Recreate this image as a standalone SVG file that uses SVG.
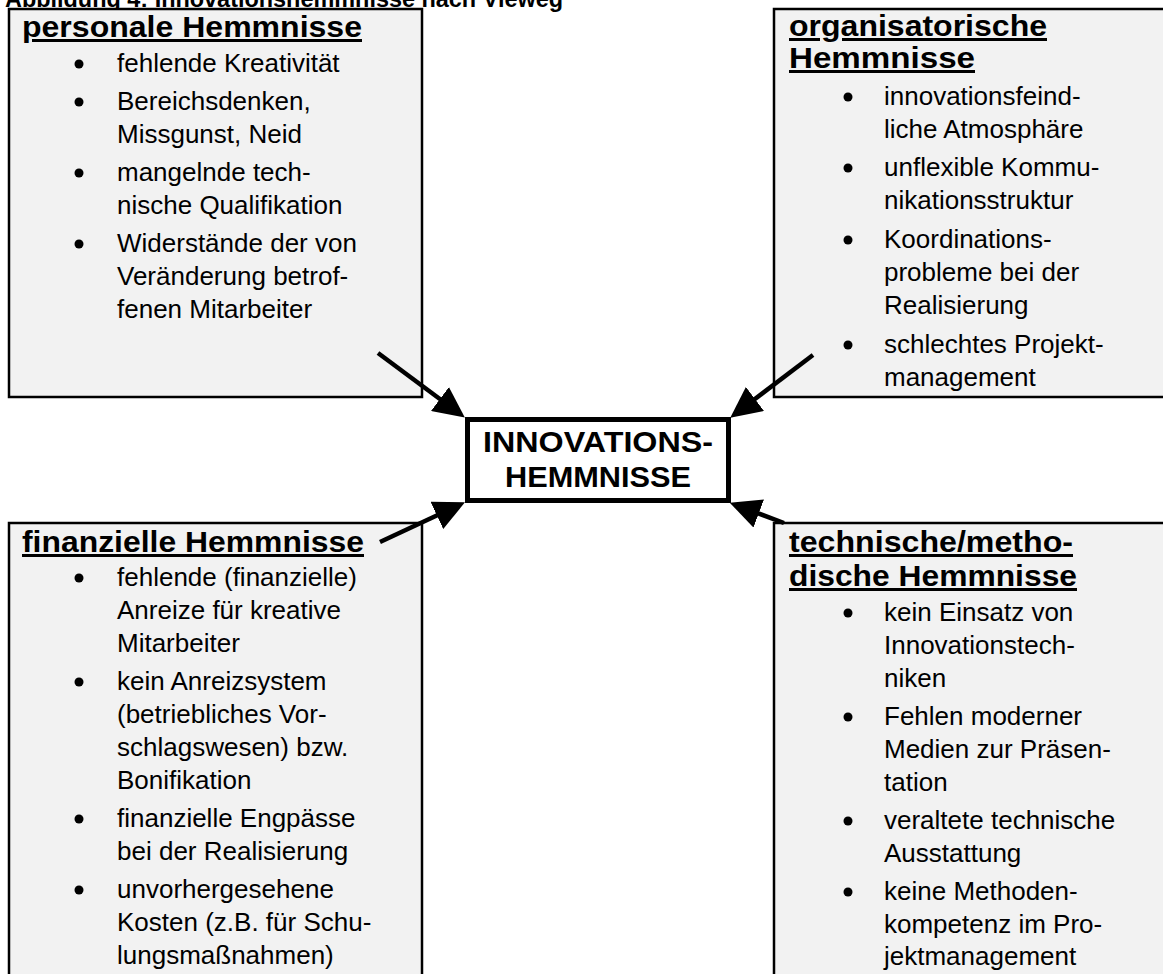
<svg xmlns="http://www.w3.org/2000/svg" width="1163" height="974" viewBox="0 0 1163 974">
<style>
.box{fill:#f2f2f2;stroke:#000;stroke-width:2.5}
.center{fill:#fff;stroke:#000;stroke-width:5}
.t{font-family:"Liberation Sans",Arial,sans-serif;font-size:26px;fill:#000}
.h{font-family:"Liberation Sans",Arial,sans-serif;font-size:30px;font-weight:bold;fill:#000;text-decoration:underline}
.c{font-family:"Liberation Sans",Arial,sans-serif;font-size:30px;font-weight:bold;fill:#000;text-anchor:middle}
.title{font-family:"Liberation Sans",Arial,sans-serif;font-size:23px;font-weight:bold;fill:#000}
.dot{fill:#000}
.arr{stroke:#000;stroke-width:4.5;fill:none;marker-end:url(#ah)}
</style>
<defs>
<marker id="ah" markerUnits="userSpaceOnUse" markerWidth="31" markerHeight="30" refX="20" refY="15" orient="auto">
<path d="M0,0 L31,15 L0,30 z" fill="#000"/>
</marker>
</defs>
<rect width="1163" height="974" fill="#fff"/>
<text class="title" x="5" y="7" textLength="558" lengthAdjust="spacingAndGlyphs">Abbildung 4:  Innovationshemmnisse nach Vieweg</text>

<g id="personal">
<rect class="box" x="9" y="9" width="413" height="388"/>
<text class="h" x="22" y="37" textLength="340" lengthAdjust="spacingAndGlyphs">personale Hemmnisse</text>
<circle class="dot" cx="79" cy="64" r="4.5"/>
<text class="t" x="117" y="72">fehlende Kreativität</text>
<circle class="dot" cx="79" cy="102" r="4.5"/>
<text class="t" x="117" y="110">Bereichsdenken,</text>
<text class="t" x="117" y="143">Missgunst, Neid</text>
<circle class="dot" cx="79" cy="173" r="4.5"/>
<text class="t" x="117" y="181">mangelnde tech-</text>
<text class="t" x="117" y="214">nische Qualifikation</text>
<circle class="dot" cx="79" cy="244" r="4.5"/>
<text class="t" x="117" y="252">Widerstände der von</text>
<text class="t" x="117" y="285">Veränderung betrof-</text>
<text class="t" x="117" y="318">fenen Mitarbeiter</text>
</g>

<g id="organisatorisch">
<rect class="box" x="774" y="9" width="400" height="388"/>
<text class="h" x="789" y="36" textLength="258" lengthAdjust="spacingAndGlyphs">organisatorische</text>
<text class="h" x="789" y="68" textLength="186" lengthAdjust="spacingAndGlyphs">Hemmnisse</text>
<circle class="dot" cx="848" cy="97" r="4.5"/>
<text class="t" x="884" y="105">innovationsfeind-</text>
<text class="t" x="884" y="138">liche Atmosphäre</text>
<circle class="dot" cx="848" cy="168" r="4.5"/>
<text class="t" x="884" y="176">unflexible Kommu-</text>
<text class="t" x="884" y="209">nikationsstruktur</text>
<circle class="dot" cx="848" cy="240" r="4.5"/>
<text class="t" x="884" y="248">Koordinations-</text>
<text class="t" x="884" y="281">probleme bei der</text>
<text class="t" x="884" y="314">Realisierung</text>
<circle class="dot" cx="848" cy="345" r="4.5"/>
<text class="t" x="884" y="353">schlechtes Projekt-</text>
<text class="t" x="884" y="386">management</text>
</g>

<g id="finanziell">
<rect class="box" x="9" y="523" width="413" height="470"/>
<text class="h" x="22" y="552" textLength="342" lengthAdjust="spacingAndGlyphs">finanzielle Hemmnisse</text>
<circle class="dot" cx="79" cy="578" r="4.5"/>
<text class="t" x="117" y="586">fehlende (finanzielle)</text>
<text class="t" x="117" y="619">Anreize für kreative</text>
<text class="t" x="117" y="652">Mitarbeiter</text>
<circle class="dot" cx="79" cy="682" r="4.5"/>
<text class="t" x="117" y="690">kein Anreizsystem</text>
<text class="t" x="117" y="723">(betriebliches Vor-</text>
<text class="t" x="117" y="756">schlagswesen) bzw.</text>
<text class="t" x="117" y="789">Bonifikation</text>
<circle class="dot" cx="79" cy="819" r="4.5"/>
<text class="t" x="117" y="827">finanzielle Engpässe</text>
<text class="t" x="117" y="860">bei der Realisierung</text>
<circle class="dot" cx="79" cy="890" r="4.5"/>
<text class="t" x="117" y="898">unvorhergesehene</text>
<text class="t" x="117" y="931">Kosten (z.B. für Schu-</text>
<text class="t" x="117" y="964">lungsmaßnahmen)</text>
</g>

<g id="technisch">
<rect class="box" x="774" y="523" width="400" height="470"/>
<text class="h" x="789" y="552" textLength="284" lengthAdjust="spacingAndGlyphs">technische/metho-</text>
<text class="h" x="789" y="586" textLength="288" lengthAdjust="spacingAndGlyphs">dische Hemmnisse</text>
<circle class="dot" cx="848" cy="613" r="4.5"/>
<text class="t" x="884" y="621">kein Einsatz von</text>
<text class="t" x="884" y="654">Innovationstech-</text>
<text class="t" x="884" y="687">niken</text>
<circle class="dot" cx="848" cy="717" r="4.5"/>
<text class="t" x="884" y="725">Fehlen moderner</text>
<text class="t" x="884" y="758">Medien zur Präsen-</text>
<text class="t" x="884" y="791">tation</text>
<circle class="dot" cx="848" cy="821" r="4.5"/>
<text class="t" x="884" y="829">veraltete technische</text>
<text class="t" x="884" y="862">Ausstattung</text>
<circle class="dot" cx="848" cy="892" r="4.5"/>
<text class="t" x="884" y="900">keine Methoden-</text>
<text class="t" x="884" y="933">kompetenz im Pro-</text>
<text class="t" x="884" y="965">jektmanagement</text>
</g>

<g id="zentrum">
<rect class="center" x="467.5" y="419.5" width="261" height="81"/>
<text class="c" x="598" y="452" textLength="230" lengthAdjust="spacingAndGlyphs">INNOVATIONS-</text>
<text class="c" x="598" y="487" textLength="186" lengthAdjust="spacingAndGlyphs">HEMMNISSE</text>
</g>

<g id="connectors">
<line class="arr" x1="378" y1="353" x2="456" y2="411"/>
<line class="arr" x1="813" y1="355" x2="739" y2="411"/>
<line class="arr" x1="380" y1="542" x2="455" y2="507"/>
<line class="arr" x1="784" y1="523" x2="740" y2="506.5"/>
</g>
</svg>
